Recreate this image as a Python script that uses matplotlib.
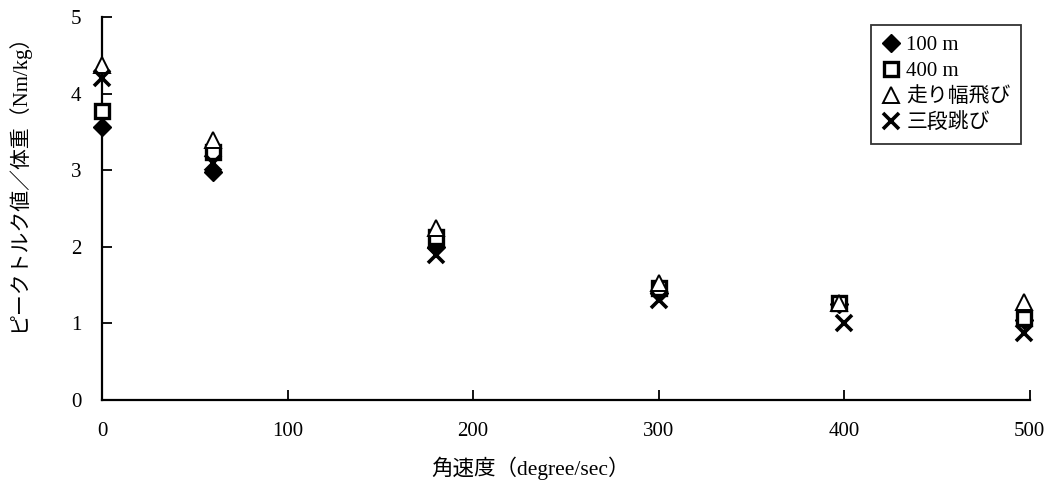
import matplotlib.pyplot as plt

plt.rcParams['font.family'] = ['Liberation Serif', 'Noto Sans CJK JP']

x_main = [0, 60, 180, 300, 397, 497]
x_cross = [0, 60, 180, 300, 400, 497]
m100 = [3.56, 2.97, 2.00, 1.40, 1.25, 1.05]
m400 = [3.77, 3.24, 2.13, 1.46, 1.27, 1.07]
long_jump = [4.37, 3.39, 2.24, 1.53, 1.27, 1.28]
triple_jump = [4.20, 3.09, 1.89, 1.31, 1.00, 0.87]

labels = ['100 m', '400 m', '走り幅飛び', '三段跳び']

fig = plt.figure(figsize=(10.56, 4.84), dpi=100)
ax = fig.add_axes([0.0966, 0.1736, 0.8784, 0.7914])

ax.plot(x_main, m100, linestyle='none', marker='D', markersize=9.5,
        color='black', label=labels[0], zorder=3, clip_on=False)
ax.plot(x_main, m400, linestyle='none', marker='s', markersize=10.5,
        markerfacecolor='white', markeredgecolor='black', markeredgewidth=2.4,
        label=labels[1], zorder=4, clip_on=False)
ax.plot(x_main, long_jump, linestyle='none', marker='^', markersize=11.5,
        markerfacecolor='white', markeredgecolor='black', markeredgewidth=1.4,
        label=labels[2], zorder=5, clip_on=False)
ax.plot(x_cross, triple_jump, linestyle='none', marker='x', markersize=12,
        color='black', markeredgewidth=2.6, label=labels[3], zorder=6,
        clip_on=False)

ax.set_xlim(0, 500)
ax.set_ylim(0, 5)
ax.set_xticks([0, 100, 200, 300, 400, 500])
ax.set_yticks([0, 1, 2, 3, 4, 5])
ax.tick_params(direction='in', length=7, width=1.3, labelsize=15)
ax.tick_params(axis='x', pad=16)
ax.tick_params(axis='y', pad=15)
for s in ['top', 'right']:
    ax.spines[s].set_visible(False)
for s in ['left', 'bottom']:
    ax.spines[s].set_linewidth(1.6)

ax.set_xlabel('角速度（degree/sec）', fontsize=15.5)
ax.xaxis.set_label_coords(0.462, -0.148)
ax.set_ylabel('ピークトルク値／体重（Nm/kg）', fontsize=15)
ax.yaxis.set_label_coords(-0.0787, 0.58)

leg = ax.legend(loc='upper right', bbox_to_anchor=(0.991, 0.979), fontsize=15,
                frameon=True, fancybox=False, edgecolor='black',
                handletextpad=0.3, handlelength=0.9, borderpad=0.5,
                labelspacing=0.3, borderaxespad=0)
leg.get_frame().set_linewidth(1.3)

fig.savefig('out.png', dpi=100)
